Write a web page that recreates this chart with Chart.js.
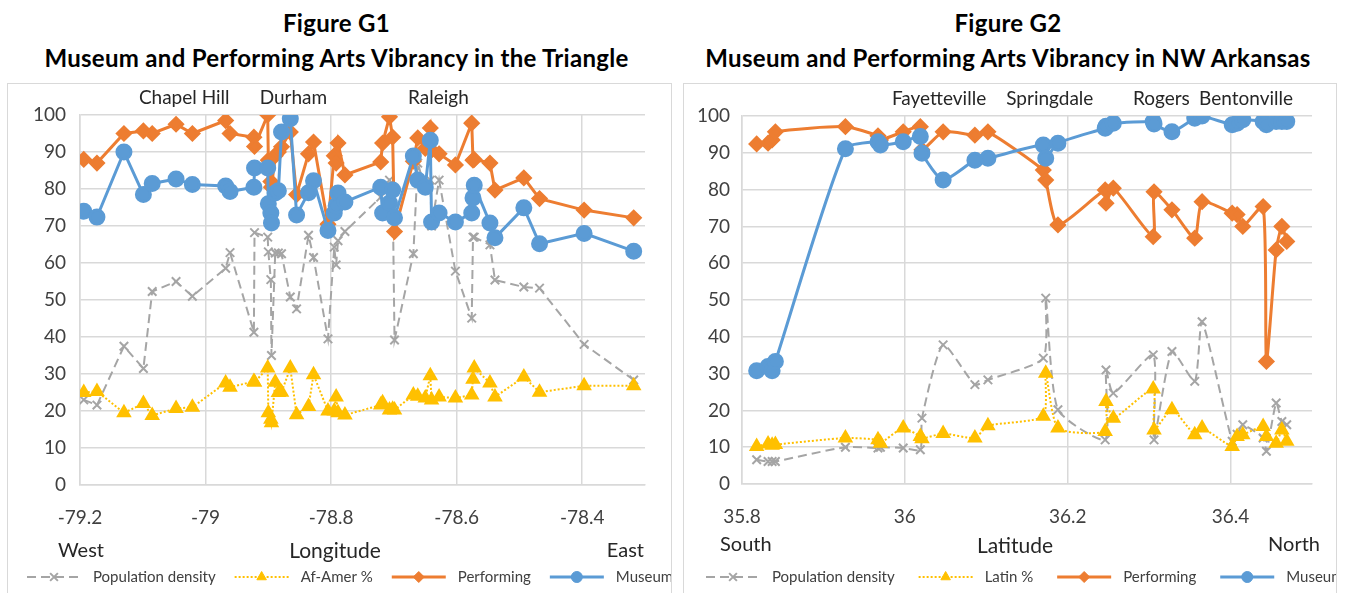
<!DOCTYPE html>
<html>
<head>
<meta charset="utf-8">
<script src="https://cdn.jsdelivr.net/npm/chart.js@4.4.1/dist/chart.umd.min.js"></script>
<style>
  body { margin: 0; background: #fff; width: 1351px; height: 593px; overflow: hidden; position: relative; font-family: Lato, "Noto Sans", sans-serif; }
  .title { position: absolute; top: 5px; text-align: center; font-weight: bold; font-size: 24px; letter-spacing: 0.3px; line-height: 35px; color: #000; }
  .box { position: absolute; top: 83px; height: 540px; border: 1px solid #d9d9d9; }
  canvas { position: absolute; left: 0; top: 0; }
</style>
</head>
<body>
<div class="title" style="left:0;width:673px;">Figure G1<br>Museum and Performing Arts Vibrancy in the Triangle</div>
<div class="title" style="left:678px;width:660px;">Figure G2<br>Museum and Performing Arts Vibrancy in NW Arkansas</div>
<div class="box" style="left:7px;width:663px;"><canvas id="chartG1" width="663" height="509"></canvas></div>
<div class="box" style="left:683px;width:652px;"><canvas id="chartG2" width="652" height="509"></canvas></div>
<script>
// Figure G1 - Triangle, by longitude
const lon1 = [-79.194, -79.173, -79.130, -79.099, -79.085, -79.047, -79.021, -78.968, -78.961, -78.923,
  -78.922, -78.901, -78.900, -78.896, -78.895, -78.889, -78.884, -78.879, -78.865, -78.855,
  -78.836, -78.828, -78.805, -78.795, -78.792, -78.789, -78.778, -78.721, -78.718, -78.707,
  -78.702, -78.699, -78.669, -78.662, -78.650, -78.642, -78.640, -78.628, -78.602, -78.576,
  -78.574, -78.572, -78.547, -78.539, -78.493, -78.468, -78.397, -78.318];
const perf1 = [88, 87, 95, 95.7, 95, 97.5, 95, 98.5, 95, 94,
  91.5, 100, 87.8, 82, 80.5, 89, 90, 91.4, 95.4, 78.5,
  89.5, 92.7, 70.5, 89, 87, 92.4, 83.8, 87.3, 92.4, 99.5,
  94, 68.5, 87.5, 93.8, 91, 96.5, 90.5, 89.5, 86.5, 97.8,
  87.8, 88, 87, 79.7, 83, 77.4, 74.3, 72.2];
const mus1 = [74, 72.4, 90, 78.5, 81.5, 82.7, 81.2, 80.8, 79.3, 80.5,
  85.7, 85.7, 76, 73.5, 70.8, 78.9, 79.5, 95.4, 99, 73,
  79, 82.2, 68.8, 73.5, 75.5, 78.9, 76.5, 80.5, 73.5, 76.2,
  79.7, 72.2, 88.9, 82.4, 80.5, 93.2, 71.1, 73.5, 71.1, 73.5,
  77.6, 81, 70.8, 66.8, 74.9, 65.2, 68, 63.2];
const pop1 = [23, 21.6, 37.5, 31.5, 52.3, 55, 51, 58.6, 62.8, 41.3,
  68.2, 67, 63, 55.5, 35, 62.7, 62.7, 62.5, 50.8, 47.6,
  67.5, 61.5, 39.5, 64.3, 59.5, 66, 68.5, 77.8, 80, 82.4,
  80, 39.2, 62.5, 87, 80, 82.4, 70, 82.4, 57.8, 45.1,
  67, 67, 64.9, 55.4, 53.5, 53.2, 38, 28.4];
const afam1 = [25, 25.3, 19.5, 22, 18.8, 20.7, 21, 27.6, 26.4, 28,
  27.8, 31.6, 19.5, 17.8, 16.8, 27.8, 25, 25.1, 31.6, 19,
  21.2, 29.8, 20, 20, 23.8, 19.5, 18.9, 21.6, 22.2, 20.3,
  20.5, 20.3, 24.3, 24, 23.5, 29.5, 23, 23.8, 23.5, 24.3,
  28.6, 31.6, 27.6, 23.8, 29.2, 25.1, 26.8, 26.8];
const xTicks1 = [-79.2, -79, -78.8, -78.6, -78.4];
const cities1 = ['Chapel Hill', 'Durham', 'Raleigh'];
const cityPos1 = [-79.034, -78.860, -78.629];

// Figure G2 - NW Arkansas, by latitude
const lat2 = [35.818, 35.832, 35.837, 35.841, 35.927, 35.967, 35.970, 35.998, 36.019, 36.021,
  36.047, 36.086, 36.102, 36.170, 36.173, 36.188, 36.246, 36.247, 36.256, 36.305,
  36.306, 36.328, 36.356, 36.365, 36.402, 36.408, 36.415, 36.440, 36.444, 36.456,
  36.463, 36.469];
const perf2 = [92.4, 92.6, 93.5, 95.7, 97.1, 94.6, 93.5, 95.7, 97.1, 90.8,
  95.7, 94.8, 95.7, 85.3, 82.6, 70.4, 79.9, 76.3, 80.4, 67.2,
  79.4, 74.5, 66.8, 76.7, 73.6, 73.2, 70, 75.4, 33.3, 63.6,
  70, 65.9];
const mus2 = [30.8, 31.9, 30.8, 33.3, 91.1, 93, 92.1, 93, 94.4, 89.9,
  82.6, 88, 88.5, 92.1, 88.5, 92.6, 96.7, 97.2, 98, 98.5,
  97.8, 95.7, 99.4, 100, 97.6, 98, 99, 98.5, 97.6, 98.5,
  98.5, 98.5];
const pop2 = [6.6, 6.1, 6.1, 6.1, 10, 9.8, 10, 9.8, 9.3, 17.9,
  37.8, 27, 28.3, 34.2, 50.5, 20.2, 12, 31, 24.7, 35.1,
  12, 36, 27.9, 44.1, 11.6, 13.5, 16.1, 12.5, 8.9, 22,
  17, 16.1];
const latin2 = [10.2, 10.9, 10.5, 10.7, 12.5, 12, 11.1, 15.2, 12.9, 12.3,
  13.7, 12.5, 15.8, 18.4, 30.1, 15.2, 14.3, 22.4, 17.9, 25.8,
  14.7, 20.2, 13.4, 15.2, 10.2, 12.9, 13.4, 15.6, 12.9, 11.1,
  14.7, 11.6];
const xTicks2 = [35.8, 36, 36.2, 36.4];
const cities2 = ['Fayetteville', 'Springdale', 'Rogers', 'Bentonville'];
const cityPos2 = [36.042, 36.178, 36.315, 36.419];

const yTicks = [0, 10, 20, 30, 40, 50, 60, 70, 80, 90, 100];

const GRAY = '#a5a5a5', YELLOW = '#ffc000', ORANGE = '#ed7d31', BLUE = '#5b9bd5';
const GRID = '#d9d9d9';
const FONT = 'Lato, "Noto Sans", sans-serif';

function pts(xs, ys) { return xs.map((x, i) => ({ x: x, y: ys[i] })); }

function makeSets(xs, pop, share, perf, mus, shareName, tension) {
  return [
    { label: 'Museums', data: pts(xs, mus), order: 1, borderColor: BLUE, backgroundColor: BLUE,
      borderWidth: 3, pointStyle: 'circle', pointRadius: 7, tension: tension },
    { label: 'Performing', data: pts(xs, perf), order: 2, borderColor: ORANGE, backgroundColor: ORANGE,
      borderWidth: 3, pointStyle: 'rectRot', pointRadius: 6.5, tension: tension },
    { label: shareName, data: pts(xs, share), order: 3, borderColor: YELLOW, backgroundColor: YELLOW,
      borderWidth: 2, borderDash: [2, 2], pointStyle: 'triangle', pointRadius: 7, tension: tension },
    { label: 'Population density', data: pts(xs, pop), order: 4, borderColor: GRAY, backgroundColor: GRAY,
      borderWidth: 2, borderDash: [9, 5], pointStyle: 'crossRot', pointRadius: 6, pointBorderWidth: 2, tension: tension }
  ];
}

// texts around the plot: city names, axis words, legend
const extras = {
  id: 'extras',
  afterDraw(chart, args, o) {
    const ctx = chart.ctx, xs = chart.scales.x, area = chart.chartArea;
    ctx.save();
    ctx.fillStyle = '#262626';
    ctx.textBaseline = 'middle';
    ctx.font = '19px ' + FONT;
    ctx.textAlign = 'center';
    o.cities.forEach((c, i) => ctx.fillText(c, xs.getPixelForValue(o.cityPos[i]), area.top - 17));

    ctx.font = '20px ' + FONT;
    ctx.textAlign = 'left';
    ctx.fillText(o.left, o.leftX, o.sideY);
    ctx.textAlign = 'right';
    ctx.fillText(o.right, o.rightX, o.sideY);
    ctx.font = '21px ' + FONT;
    ctx.textAlign = 'center';
    ctx.fillText(o.title, o.titleX, o.titleY);

    // legend: line + marker + text, in Excel order
    const sets = chart.data.datasets.slice().reverse();
    let x = o.legendX;
    const y = o.legendY;
    ctx.font = '15px ' + FONT;
    ctx.textAlign = 'left';
    sets.forEach(ds => {
      ctx.strokeStyle = ds.borderColor;
      ctx.lineWidth = ds.borderWidth;
      ctx.setLineDash(ds.borderDash || []);
      ctx.beginPath();
      ctx.moveTo(x, y);
      ctx.lineTo(x + 54, y);
      ctx.stroke();
      ctx.setLineDash([]);
      ctx.fillStyle = ds.backgroundColor;
      ctx.lineWidth = ds.pointBorderWidth || 1;
      Chart.helpers.drawPoint(ctx, { pointStyle: ds.pointStyle, radius: 5.5, borderWidth: ds.pointBorderWidth || 1, rotation: 0 }, x + 27, y);
      ctx.fillStyle = '#404040';
      ctx.fillText(ds.label, x + 66, y);
      x += 66 + ctx.measureText(ds.label).width + o.legendGap;
    });
    ctx.restore();
  }
};

function makeChart(id, sets, xMin, xMax, xTicks, yWidth, yPad, xHeight, padTop, padRight, extraOpts) {
  return new Chart(document.getElementById(id), {
    type: 'line',
    data: { datasets: sets },
    plugins: [extras],
    options: {
      responsive: false,
      animation: false,
      devicePixelRatio: 1,
      layout: { padding: { top: padTop, right: padRight, left: 0, bottom: 0 } },
      plugins: { legend: { display: false }, tooltip: { enabled: false }, extras: extraOpts },
      scales: {
        x: {
          type: 'linear', min: xMin, max: xMax,
          afterBuildTicks: s => { s.ticks = xTicks.map(v => ({ value: v })); },
          afterFit: s => { s.height = xHeight; },
          grid: { color: GRID, lineWidth: 1.5, drawTicks: false },
          border: { color: GRID, width: 1.5 },
          ticks: { padding: 21, color: '#404040', font: { size: 19, family: FONT },
                   callback: v => String(Number(v.toFixed(1))) }
        },
        y: {
          min: 0, max: 100,
          afterBuildTicks: s => { s.ticks = yTicks.map(v => ({ value: v })); },
          afterFit: s => { s.width = yWidth; },
          grid: { color: GRID, lineWidth: 1.5, drawTicks: false },
          border: { color: GRID, width: 1.5 },
          ticks: { padding: yPad, color: '#404040', font: { size: 19, family: FONT } }
        }
      }
    }
  });
}

makeChart('chartG1', makeSets(lon1, pop1, afam1, perf1, mus1, 'Af-Amer %', 0),
  -79.2, -78.3, xTicks1, 72, 14, 108, 31, 26,
  { cities: cities1, cityPos: cityPos1, left: 'West', right: 'East', title: 'Longitude', titleX: 327,
    leftX: 50, rightX: 636, sideY: 467, titleY: 467, legendX: 19, legendY: 493, legendGap: 19 });

makeChart('chartG2', makeSets(lat2, pop2, latin2, perf2, mus2, 'Latin %', 0.2),
  35.8, 36.5, xTicks2, 58, 12, 109, 32, 24,
  { cities: cities2, cityPos: cityPos2, left: 'South', right: 'North', title: 'Latitude', titleX: 331,
    leftX: 36, rightX: 636, sideY: 461, titleY: 462, legendX: 22, legendY: 493, legendGap: 24 });
</script>
</body>
</html>
